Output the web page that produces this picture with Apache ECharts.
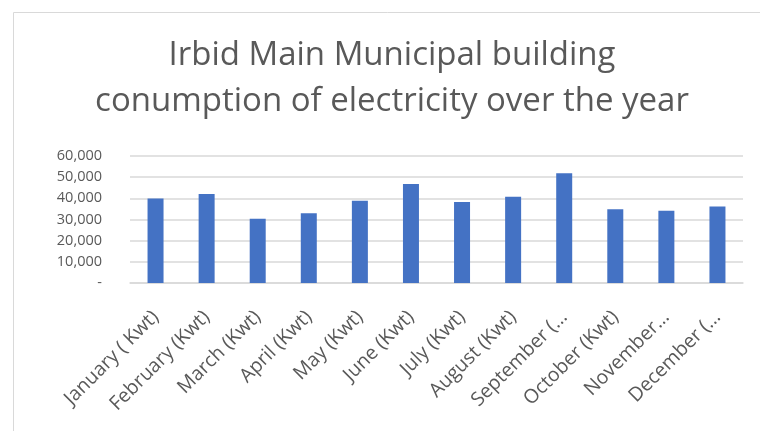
<!DOCTYPE html>
<html>
<head>
<meta charset="utf-8">
<script src="https://cdn.jsdelivr.net/npm/echarts@6/dist/echarts.min.js"></script>
<style>
  html, body { margin: 0; padding: 0; background: #fff; }
  #chart { width: 760px; height: 431px; }
</style>
</head>
<body>
<div id="chart"></div>
<script>
const months = [
  'January ( Kwt)', 'February (Kwt)', 'March (Kwt)', 'April (Kwt)',
  'May (Kwt)', 'June (Kwt)', 'July (Kwt)', 'August (Kwt)',
  'September (\u2026', 'October (Kwt)', 'November\u2026', 'December (\u2026'
];
const consumption = [39900, 42000, 30300, 33000, 38800, 46800, 38300, 40700, 51900, 34900, 34100, 36100];
const titleLines = ['Irbid Main Municipal building', 'conumption of electricity over the year'];

const myChart = echarts.init(document.getElementById('chart'));

const option = {
  animation: false,
  textStyle: { fontFamily: 'Open Sans' },
  title: {
    text: titleLines.join('\n'),
    left: 387,
    textAlign: 'center',
    top: 28,
    textStyle: {
      color: '#595959',
      fontSize: 33,
      fontWeight: 'normal',
      fontFamily: 'Open Sans',
      lineHeight: 46
    }
  },
  graphic: [{
    type: 'rect',
    shape: { x: 13.5, y: 12.5, width: 800, height: 500 },
    style: { fill: 'none', stroke: '#d9d9d9', lineWidth: 1 },
    silent: true
  }],
  grid: { left: 130, right: 17, top: 156, bottom: 148 },
  xAxis: {
    type: 'category',
    data: months,
    axisLine: { lineStyle: { color: '#d9d9d9', width: 1.5 } },
    axisTick: { show: false },
    axisLabel: {
      rotate: 45,
      interval: 0,
      color: '#595959',
      fontSize: 19.5,
      fontFamily: 'Open Sans',
      margin: 31
    }
  },
  yAxis: {
    type: 'value',
    min: 0,
    max: 60000,
    interval: 10000,
    axisLine: { show: false },
    axisTick: { show: false },
    splitLine: { lineStyle: { color: '#d9d9d9', width: 1.5 } },
    axisLabel: {
      color: '#595959',
      fontSize: 14.5,
      fontFamily: 'Open Sans',
      margin: 28,
      formatter: function (v) {
        return v === 0 ? '-' : v.toLocaleString('en-US');
      }
    }
  },
  series: [{
    type: 'bar',
    data: consumption,
    barWidth: 16,
    itemStyle: { color: '#4472c4' }
  }]
};

myChart.setOption(option);
</script>
</body>
</html>
